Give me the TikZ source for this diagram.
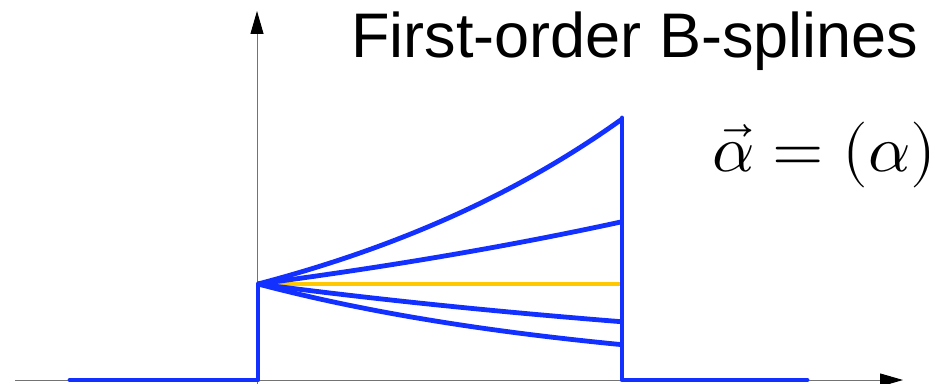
\documentclass[tikz,border=0pt]{standalone}
\usepackage{fontspec}
\setmainfont{Liberation Sans}
\usepackage{unicode-math}
\setmathfont{Latin Modern Math}
\usetikzlibrary{arrows.meta}
\definecolor{splineblue}{RGB}{18,48,255}
\definecolor{splineyellow}{RGB}{255,200,0}
\tikzset{
  axisline/.style={draw=black!55, line width=0.5pt, -{Triangle[length=11.5pt,width=6.5pt,fill=black,color=black]}},
  spline/.style={draw=splineblue, line width=2.4pt, line join=round},
  midspline/.style={draw=splineyellow, line width=2.2pt},
}
\begin{document}
\begin{tikzpicture}[x=0.5pt,y=-0.5pt]
\useasboundingbox (0,0) rectangle (935,384);
\coordinate (xs) at (15,380);
\coordinate (xe) at (903,380);
\coordinate (ys) at (257,384);
\coordinate (ye) at (257,11);
\coordinate (bl) at (70,380);
\coordinate (o) at (258,380);
\coordinate (p) at (258,284);
\coordinate (q) at (622,380);
\coordinate (qt) at (622,118);
\coordinate (br) at (807,380);
\draw[axisline] (xs) -- (xe);
\draw[axisline] (ys) -- (ye);
\draw[midspline] (p) -- (622,284);
\foreach \a in {1,0.5,-0.5,-1}{
  \draw[spline, domain=0:1, samples=60, smooth, variable=\t]
    plot ({258+364*\t},{380-96*exp(\a*\t)});
}
\draw[spline, line cap=round] (bl) -- (o) -- (p);
\draw[spline, line cap=round] (qt) -- (q) -- (br);
\node[anchor=base west, inner sep=0pt, font=\fontsize{31.5}{38}\selectfont] (title) at (351,58) {First-order B-splines};
\node[anchor=base west, inner sep=0pt, font=\fontsize{33}{40}\selectfont] (eq) at (712,172) {$\vec{\alpha}=(\alpha)$};
\end{tikzpicture}
\end{document}
